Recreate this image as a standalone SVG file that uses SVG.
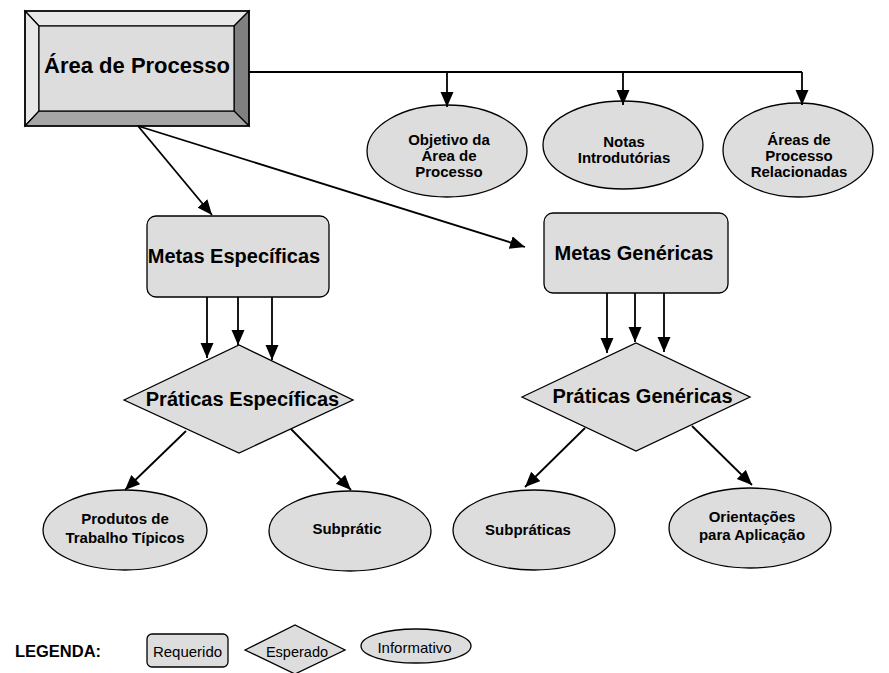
<svg xmlns="http://www.w3.org/2000/svg" width="889" height="673" viewBox="0 0 889 673">
<style>
text{font-family:"Liberation Sans",Arial,sans-serif;fill:#000;text-anchor:middle}
.b{font-weight:bold}
.node{fill:#dddddd;stroke:#000;stroke-width:1.3}
.conn{fill:none;stroke:#000;stroke-width:1.8}
</style>
<defs>
<marker id="ah" markerUnits="userSpaceOnUse" markerWidth="16" markerHeight="14" refX="15" refY="6.5" orient="auto">
<path d="M0,0 L15,6.5 L0,13 z" fill="#000"/>
</marker>
</defs>
<rect width="889" height="673" fill="#fff"/>
<g id="area-processo">
<rect x="25" y="11" width="224" height="115" fill="#dddddd"/>
<polygon points="25,11 249,11 234,26 39,26" fill="#e8e8e8" stroke="#000" stroke-width="1.2"/>
<polygon points="25,11 39,26 39,111 25,126" fill="#e8e8e8" stroke="#000" stroke-width="1.2"/>
<polygon points="249,11 234,26 234,111 249,126" fill="#808080" stroke="#000" stroke-width="1.2"/>
<polygon points="25,126 39,111 234,111 249,126" fill="#a6a6a6" stroke="#000" stroke-width="1.2"/>
<rect x="39" y="26" width="195" height="85" fill="#dddddd" stroke="#000" stroke-width="1.2"/>
<rect x="25" y="11" width="224" height="115" fill="none" stroke="#000" stroke-width="1.5"/>
<text x="137" y="73" class="b" font-size="22">Área de Processo</text>
</g>
<g id="objetivo">
<ellipse cx="447" cy="151" rx="80" ry="46" class="node"/>
<text class="b" font-size="15"><tspan x="449" y="145">Objetivo da</tspan><tspan x="449" y="161">Área de</tspan><tspan x="449" y="177">Processo</tspan></text>
</g>
<g id="notas">
<ellipse cx="623" cy="145" rx="80" ry="44" class="node"/>
<text class="b" font-size="15"><tspan x="624" y="146.5">Notas</tspan><tspan x="624" y="162.5">Introdutórias</tspan></text>
</g>
<g id="areas-relacionadas">
<ellipse cx="798" cy="150" rx="75" ry="47" class="node"/>
<text class="b" font-size="15"><tspan x="799" y="144.5">Áreas de</tspan><tspan x="799" y="160.5">Processo</tspan><tspan x="799" y="176.5">Relacionadas</tspan></text>
</g>
<g id="metas-especificas">
<rect x="147" y="216" width="182" height="81" rx="9" class="node"/>
<text x="234" y="263" class="b" font-size="20">Metas Específicas</text>
</g>
<g id="metas-genericas">
<rect x="544" y="213" width="184" height="80" rx="9" class="node"/>
<text x="634" y="260" class="b" font-size="20">Metas Genéricas</text>
</g>
<g id="praticas-especificas">
<polygon points="124,400 239,345 353,400 239,453" class="node"/>
<text x="242.5" y="406" class="b" font-size="20">Práticas Específicas</text>
</g>
<g id="praticas-genericas">
<polygon points="522,397 636,343 750,397 636,451" class="node"/>
<text x="642.5" y="403" class="b" font-size="20">Práticas Genéricas</text>
</g>
<g id="produtos">
<ellipse cx="125" cy="530" rx="82" ry="40" class="node"/>
<text class="b" font-size="15"><tspan x="125" y="524">Produtos de</tspan><tspan x="125" y="543">Trabalho Típicos</tspan></text>
</g>
<g id="subpratic">
<ellipse cx="350" cy="531" rx="81" ry="40" class="node"/>
<text x="347" y="534" class="b" font-size="15">Subprátic</text>
</g>
<g id="subpraticas">
<ellipse cx="534" cy="530" rx="81" ry="40" class="node"/>
<text x="528" y="535" class="b" font-size="15">Subpráticas</text>
</g>
<g id="orientacoes">
<ellipse cx="750" cy="528" rx="81" ry="40" class="node"/>
<text class="b" font-size="15"><tspan x="752" y="522">Orientações</tspan><tspan x="752" y="540">para Aplicação</tspan></text>
</g>
<g id="connectors">
<polyline points="249,72 802,72" class="conn"/>
<line x1="447" y1="72" x2="447" y2="107" class="conn" marker-end="url(#ah)"/>
<line x1="623" y1="72" x2="623" y2="105" class="conn" marker-end="url(#ah)"/>
<line x1="802" y1="72" x2="802" y2="105" class="conn" marker-end="url(#ah)"/>
<line x1="138" y1="126" x2="212" y2="215" class="conn" marker-end="url(#ah)"/>
<line x1="138" y1="126" x2="525" y2="247" class="conn" marker-end="url(#ah)"/>
<line x1="207" y1="297" x2="207" y2="358" class="conn" marker-end="url(#ah)"/>
<line x1="238" y1="297" x2="238" y2="345" class="conn" marker-end="url(#ah)"/>
<line x1="272" y1="297" x2="272" y2="360" class="conn" marker-end="url(#ah)"/>
<line x1="607" y1="293" x2="607" y2="353" class="conn" marker-end="url(#ah)"/>
<line x1="635" y1="293" x2="635" y2="342" class="conn" marker-end="url(#ah)"/>
<line x1="664" y1="293" x2="664" y2="352" class="conn" marker-end="url(#ah)"/>
<line x1="186" y1="431" x2="125" y2="490" class="conn" marker-end="url(#ah)"/>
<line x1="291" y1="429" x2="351" y2="490" class="conn" marker-end="url(#ah)"/>
<line x1="585" y1="428" x2="525" y2="487" class="conn" marker-end="url(#ah)"/>
<line x1="692" y1="426" x2="752" y2="485" class="conn" marker-end="url(#ah)"/>
</g>
<g id="legenda">
<text x="58" y="657" class="b" font-size="16.5">LEGENDA:</text>
<g id="leg-requerido">
<rect x="147" y="634" width="81" height="33" rx="5" class="node"/>
<text x="187.5" y="657" font-size="15">Requerido</text>
</g>
<g id="leg-esperado">
<polygon points="245,650 295,625 345,650 295,674" class="node"/>
<text x="297" y="657" font-size="14.5">Esperado</text>
</g>
<g id="leg-informativo">
<ellipse cx="416" cy="646" rx="55" ry="17" class="node"/>
<text x="414.5" y="653" font-size="15">Informativo</text>
</g>
</g>
</svg>
